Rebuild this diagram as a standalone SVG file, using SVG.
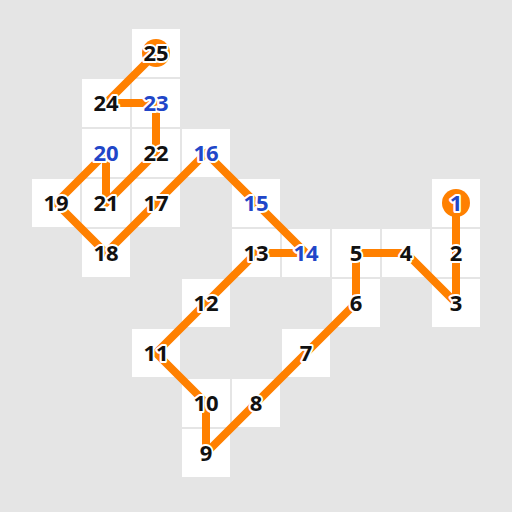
<svg xmlns="http://www.w3.org/2000/svg" width="512" height="512" viewBox="0 0 512 512">
<style>
.cell{fill:#ffffff}
.lbl{font-family:"Open Sans","Noto Sans","DejaVu Sans",sans-serif;font-size:22px;font-weight:700;text-anchor:middle;fill:#111111;stroke:#ffffff;stroke-width:4;stroke-linejoin:round;paint-order:stroke}
.blue{fill:#2146c8}
.mark{fill:#ff8000}
</style>
<rect x="0" y="0" width="512" height="512" fill="#e5e5e5"/>
<g id="cells">
<rect class="cell" x="132" y="29" width="48" height="48"/>
<rect class="cell" x="82" y="79" width="48" height="48"/>
<rect class="cell" x="132" y="79" width="48" height="48"/>
<rect class="cell" x="82" y="129" width="48" height="48"/>
<rect class="cell" x="132" y="129" width="48" height="48"/>
<rect class="cell" x="182" y="129" width="48" height="48"/>
<rect class="cell" x="32" y="179" width="48" height="48"/>
<rect class="cell" x="82" y="179" width="48" height="48"/>
<rect class="cell" x="132" y="179" width="48" height="48"/>
<rect class="cell" x="232" y="179" width="48" height="48"/>
<rect class="cell" x="432" y="179" width="48" height="48"/>
<rect class="cell" x="82" y="229" width="48" height="48"/>
<rect class="cell" x="232" y="229" width="48" height="48"/>
<rect class="cell" x="282" y="229" width="48" height="48"/>
<rect class="cell" x="332" y="229" width="48" height="48"/>
<rect class="cell" x="382" y="229" width="48" height="48"/>
<rect class="cell" x="432" y="229" width="48" height="48"/>
<rect class="cell" x="182" y="279" width="48" height="48"/>
<rect class="cell" x="332" y="279" width="48" height="48"/>
<rect class="cell" x="432" y="279" width="48" height="48"/>
<rect class="cell" x="132" y="329" width="48" height="48"/>
<rect class="cell" x="282" y="329" width="48" height="48"/>
<rect class="cell" x="182" y="379" width="48" height="48"/>
<rect class="cell" x="232" y="379" width="48" height="48"/>
<rect class="cell" x="182" y="429" width="48" height="48"/>
</g>
<g id="connectors" fill="none" stroke="#ff8000" stroke-width="8" stroke-linejoin="round">
<polyline points="456,203 456,253 456,303 406,253 356,253 356,303 306,353 256,403 206,453 206,403 156,353 206,303 256,253 306,253 256,203 206,153 156,203 106,253 56,203 106,153 106,203 156,153 156,103 106,103 156,53"/>
</g>
<g id="markers">
<circle class="mark" cx="456" cy="203" r="14"/>
<circle class="mark" cx="156" cy="53" r="14"/>
</g>
<g id="n1"><text class="lbl blue" x="456" y="211">1</text></g>
<g id="n2"><text class="lbl" x="456" y="261">2</text></g>
<g id="n3"><text class="lbl" x="456" y="311">3</text></g>
<g id="n4"><text class="lbl" x="406" y="261">4</text></g>
<g id="n5"><text class="lbl" x="356" y="261">5</text></g>
<g id="n6"><text class="lbl" x="356" y="311">6</text></g>
<g id="n7"><text class="lbl" x="306" y="361">7</text></g>
<g id="n8"><text class="lbl" x="256" y="411">8</text></g>
<g id="n9"><text class="lbl" x="206" y="461">9</text></g>
<g id="n10"><text class="lbl" x="206" y="411">10</text></g>
<g id="n11"><text class="lbl" x="156" y="361">11</text></g>
<g id="n12"><text class="lbl" x="206" y="311">12</text></g>
<g id="n13"><text class="lbl" x="256" y="261">13</text></g>
<g id="n14"><text class="lbl blue" x="306" y="261">14</text></g>
<g id="n15"><text class="lbl blue" x="256" y="211">15</text></g>
<g id="n16"><text class="lbl blue" x="206" y="161">16</text></g>
<g id="n17"><text class="lbl" x="156" y="211">17</text></g>
<g id="n18"><text class="lbl" x="106" y="261">18</text></g>
<g id="n19"><text class="lbl" x="56" y="211">19</text></g>
<g id="n20"><text class="lbl blue" x="106" y="161">20</text></g>
<g id="n21"><text class="lbl" x="106" y="211">21</text></g>
<g id="n22"><text class="lbl" x="156" y="161">22</text></g>
<g id="n23"><text class="lbl blue" x="156" y="111">23</text></g>
<g id="n24"><text class="lbl" x="106" y="111">24</text></g>
<g id="n25"><text class="lbl" x="156" y="61">25</text></g>
</svg>
